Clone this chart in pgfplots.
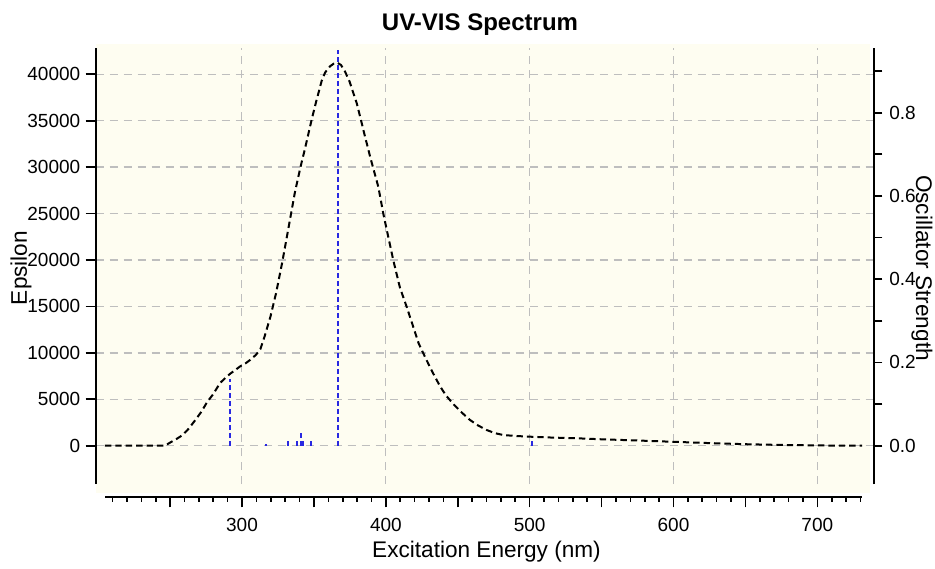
\documentclass[border=0pt]{standalone}
\usepackage{fontspec}
\setmainfont{Liberation Sans}
\usepackage{pgfplots}
\pgfplotsset{compat=1.18}
\definecolor{bgc}{RGB}{254,253,241}
\definecolor{gridc}{RGB}{190,190,190}
\definecolor{stickc}{RGB}{40,40,225}

\pgfplotstableread{
x y
205 0
230 0
244 0
247 30
251 400
255 750
259 1150
263 1800
267 2600
272 3650
276 4700
280 5500
285 6750
289 7350
292 7750
296 8200
299 8550
303 8900
306 9250
310 9800
313 10400
316 11800
320 13900
324 16500
328 19600
332 23000
337 27300
341 30100
344 32000
348.6 35100
352 37200
355.6 39300
358 40200
361.3 40850
364 41150
366.5 41250
369 41000
371.8 40300
375 39200
379.9 36900
382 35600
385.7 33300
389.1 31200
394.9 27900
398.4 25000
401 23100
405.3 20000
410 17000
414.6 14970
419.2 12800
423 11000
426.2 9950
428.5 9200
433 7800
437.8 6400
442 5400
447 4500
452 3700
458.6 2770
464 2200
470.2 1690
476 1350
481.7 1150
490 1050
500.3 970
515 880
532.7 800
550 690
575 560
600 420
625 280
650 160
675 80
700 30
720 5
731 0
}\curve

\pgfplotstableread{
x f
292 0.16
316.9 0.003
332.3 0.012
338.5 0.013
341.1 0.03
342.3 0.012
348 0.012
367 0.95
501.5 0.012
}\sticks

\begin{document}
\begin{tikzpicture}
\useasboundingbox (0,0) rectangle (467.5pt,284pt);
\fill[bgc] (47.75pt,37.5pt) rectangle (435pt,262pt);

\begin{axis}[
  at={(47.85pt,42pt)}, anchor=south west,
  scale only axis, width=389.3pt, height=218pt,
  xmin=198.6, xmax=739.5, ymin=-4125, ymax=42833,
  separate axis lines,
  x axis line style={draw=none},
  y axis line style={draw=black, line width=0.9pt},
  xtick={300,400,...,700}, xticklabels={}, major x tick style={draw=none},
  ytick={0,5000,...,40000}, ytick pos=left, tick align=outside,
  major tick length=5pt,
  major y tick style={black, line width=0.9pt},
  grid=major,
  grid style={gridc, dash pattern=on 4pt off 3pt, line width=0.7pt},
  /pgf/number format/assume math mode=true,
  scaled y ticks=false,
  yticklabel style={font=\fontsize{9.5}{11}\selectfont, xshift=0.8pt, /pgf/number format/fixed, /pgf/number format/1000 sep={}},
]
\addplot[black, line width=1pt, dash pattern=on 3.2pt off 2pt] table[x=x,y=y] {\curve};
\end{axis}

\begin{axis}[
  at={(47.85pt,42pt)}, anchor=south west,
  scale only axis, width=389.3pt, height=218pt,
  xmin=198.6, xmax=739.5, ymin=-0.092, ymax=0.9553,
  axis y line*=right, axis x line=none,
  xtick=\empty,
  ytick={0,0.2,0.4,0.6,0.8}, minor ytick={0.1,0.3,0.5,0.7,0.9},
  tick align=outside,
  major tick length=4pt, minor tick length=4pt,
  y axis line style={line width=0.9pt},
  every tick/.style={black, line width=0.9pt},
  /pgf/number format/assume math mode=true,
  yticklabel style={font=\fontsize{9.5}{11}\selectfont, /pgf/number format/fixed, /pgf/number format/fixed zerofill, /pgf/number format/precision=1},
]
\addplot[ycomb, stickc, line width=1pt, dash pattern=on 2.5pt off 1.5pt, mark=none] table[x=x,y=f] {\sticks};
\end{axis}

\begin{axis}[
  at={(52.7pt,35.35pt)}, anchor=south west,
  scale only axis, width=378.25pt, height=10pt,
  xmin=205, xmax=731, ymin=0, ymax=1,
  axis x line*=bottom, axis y line=none, ytick=\empty,
  xtick={250,300,...,700}, xticklabels={,300,,400,,500,,600,,700},
  minor xtick={210,220,...,730},
  tick align=outside,
  major tick length=5pt, minor tick length=2.2pt,
  x axis line style={line width=0.9pt},
  every tick/.style={black, line width=0.8pt},
  xticklabel style={font=\fontsize{9.5}{11}\selectfont, yshift=-2pt},
]
\addplot[draw=none] coordinates {(300,0.5)};
\end{axis}

\node[font=\bfseries\fontsize{12}{14}\selectfont] at (240pt,271.8pt) {UV-VIS Spectrum};
\node[font=\fontsize{11.3}{13}\selectfont, anchor=base] at (243.25pt,5.2pt) {Excitation Energy (nm)};
\node[font=\fontsize{11.3}{13}\selectfont, rotate=90] at (10.5pt,150pt) {Epsilon};
\node[font=\fontsize{11.3}{13}\selectfont, rotate=-90] at (461pt,150pt) {Oscillator Strength};
\end{tikzpicture}
\end{document}
